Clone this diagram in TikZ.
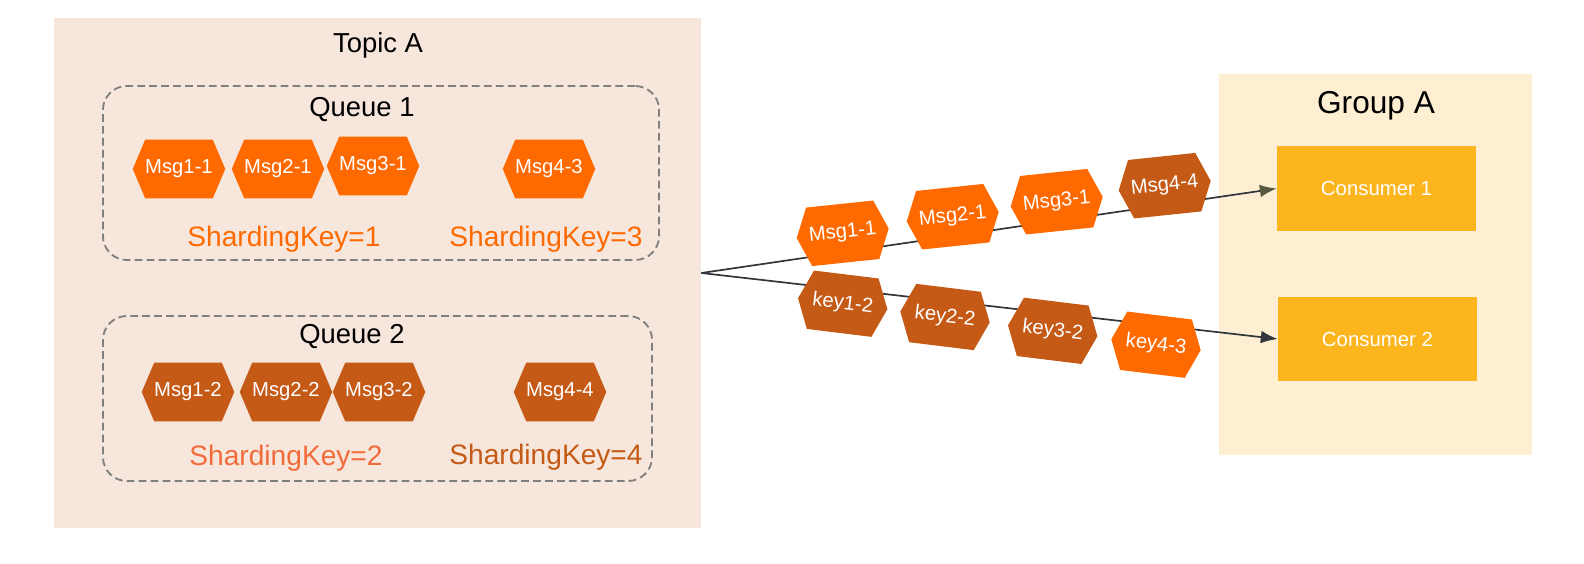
\documentclass[tikz,border=0pt]{standalone}
\usepackage{fontspec}
\setmainfont{Liberation Sans}
\usetikzlibrary{shapes.symbols, arrows.meta, positioning}

\definecolor{topicbg}{HTML}{F6E6DC}
\definecolor{groupbg}{HTML}{FEEFD3}
\definecolor{msgorange}{HTML}{FF6A00}
\definecolor{msgbrown}{HTML}{C55A16}
\definecolor{keyred}{HTML}{F26B3A}
\definecolor{consumerfill}{HTML}{FDB51D}
\definecolor{dashgray}{HTML}{7F7F7F}
\definecolor{linegray}{HTML}{30363C}
\definecolor{tipolive}{HTML}{5A5A42}

\begin{document}
\begin{tikzpicture}[x=0.025cm, y=-0.025cm,
    hexmsg/.style={shape=signal, signal to=east and west, signal pointer angle=134,
      minimum width=2.25cm, minimum height=1.47cm, inner sep=0pt, text=white,
      font=\fontsize{14.4}{17}\selectfont},
    hexhot/.style={hexmsg, fill=msgorange},
    hexdark/.style={hexmsg, fill=msgbrown},
    queuebox/.style={draw=dashgray, line width=1.3pt, dash pattern=on 5.5pt off 3pt,
      rounded corners=0.6cm, inner sep=0pt},
    title/.style={anchor=base, font=\fontsize{19.5}{22}\selectfont},
    keylabel/.style={anchor=base, font=\fontsize{20}{23}\selectfont},
    consumerbox/.style={fill=consumerfill, minimum width=4.975cm, minimum height=2.1cm,
      inner sep=0pt, text=white, font=\fontsize{14.5}{17}\selectfont},
    flow/.style={draw=linegray, line width=1.2pt}]
    \useasboundingbox (0,0) rectangle (1584,564);

    % topic and its queues
    \node[fill=topicbg, minimum width=16.175cm, minimum height=12.75cm, inner sep=0pt] (topic) at (377.5,273) {};
    \node[title] (topictitle) at (378,53) {Topic A};

    \node[queuebox, minimum width=13.9cm, minimum height=4.35cm] (queueone) at (381,173) {};
    \node[title] (queueonetitle) at (362,117) {Queue 1};
    \node[hexhot] (qam1) at (179,169) {Msg1-1};
    \node[hexhot] (qam2) at (278,169) {Msg2-1};
    \node[hexhot] (qam3) at (373,166) {Msg3-1};
    \node[hexhot] (qam4) at (549,169) {Msg4-3};
    \node[keylabel, text=msgorange] (keyone) at (284,246) {ShardingKey=1};
    \node[keylabel, text=msgorange] (keythree) at (546,246) {ShardingKey=3};

    \node[queuebox, minimum width=13.725cm, minimum height=4.125cm] (queuetwo) at (377.5,398.5) {};
    \node[title] (queuetwotitle) at (352,343) {Queue 2};
    \node[hexdark] (qbm1) at (188,392) {Msg1-2};
    \node[hexdark] (qbm2) at (286,392) {Msg2-2};
    \node[hexdark] (qbm3) at (379,392) {Msg3-2};
    \node[hexdark] (qbm4) at (560,392) {Msg4-4};
    \node[keylabel, text=keyred] (keytwo) at (286,465) {ShardingKey=2};
    \node[keylabel, text=msgbrown] (keyfour) at (546,464) {ShardingKey=4};

    % consumer group
    \node[fill=groupbg, minimum width=7.825cm, minimum height=9.525cm, inner sep=0pt] (group) at (1375.5,264.5) {};
    \node[title, font=\fontsize{22.5}{26}\selectfont] (grouptitle) at (1376,114) {Group A};
    \node[consumerbox] (consumerone) at (1376.5,188.5) {Consumer 1};
    \node[consumerbox] (consumertwo) at (1377.5,339) {Consumer 2};

    % delivery
    \draw[flow, -{Latex[length=12pt, width=9pt, color=tipolive]}] (topic.east) -- (consumerone.west);
    \draw[flow, -{Latex[length=12pt, width=9pt, color=linegray]}] (topic.east) -- (consumertwo.west);

    \node[hexhot, rotate=6] (up1) at (842.7,233.3) {Msg1-1};
    \node[hexhot, rotate=6] (up2) at (952.7,216.7) {Msg2-1};
    \node[hexhot, rotate=6] (up3) at (1056.7,201.7) {Msg3-1};
    \node[hexdark, rotate=6] (up4) at (1164.7,185.7) {Msg4-4};

    \node[hexdark, rotate=-7] (down1) at (842.7,303.7) {key1-2};
    \node[hexdark, rotate=-7] (down2) at (945,317) {key2-2};
    \node[hexdark, rotate=-7] (down3) at (1052.7,330.8) {key3-2};
    \node[hexhot, rotate=-7] (down4) at (1156,344.7) {key4-3};
\end{tikzpicture}
\end{document}
